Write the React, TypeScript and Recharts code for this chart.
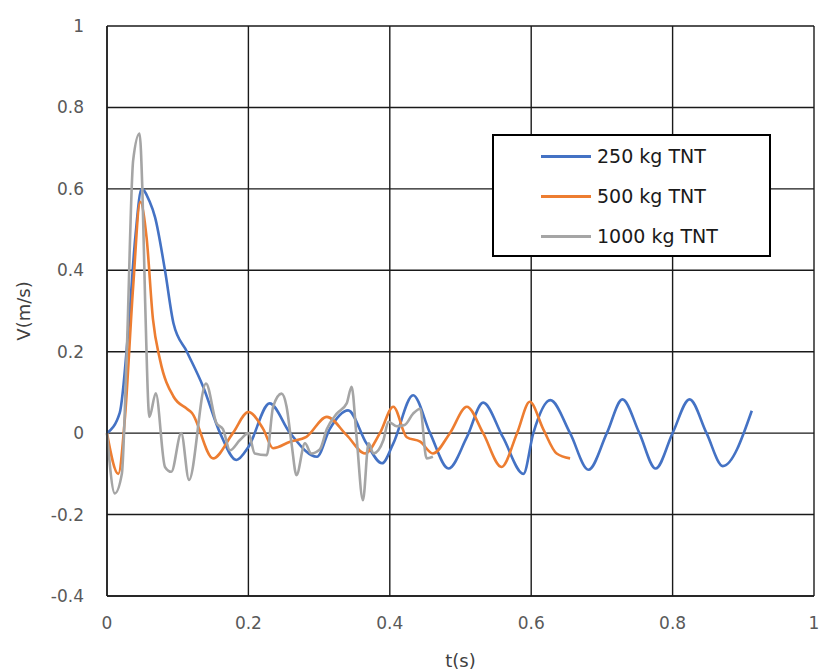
import React from "react"
import { LineChart, Line, XAxis, YAxis, CartesianGrid, Label } from "recharts"

// time (s) and velocity (m/s), per charge size
const t250 = [0, 0.018, 0.03, 0.04, 0.049, 0.06, 0.068, 0.082, 0.094, 0.113, 0.136, 0.16, 0.183, 0.2, 0.23, 0.259, 0.297, 0.315, 0.341, 0.367, 0.389, 0.405, 0.433, 0.457, 0.483, 0.509, 0.532, 0.56, 0.589, 0.603, 0.627, 0.655, 0.681, 0.707, 0.729, 0.753, 0.776, 0.8, 0.824, 0.848, 0.871, 0.912]
const v250 = [0, 0.05, 0.25, 0.48, 0.6, 0.57, 0.53, 0.4, 0.27, 0.2, 0.114, 0, -0.066, -0.034, 0.073, 0, -0.058, 0.01, 0.056, -0.025, -0.074, -0.025, 0.093, 0, -0.087, -0.01, 0.075, -0.01, -0.1, 0, 0.081, 0, -0.09, 0, 0.083, 0, -0.087, 0, 0.083, 0, -0.081, 0.055]

const t500 = [0, 0.016, 0.025, 0.037, 0.047, 0.056, 0.065, 0.075, 0.094, 0.113, 0.12, 0.15, 0.178, 0.2, 0.221, 0.235, 0.259, 0.282, 0.311, 0.339, 0.365, 0.386, 0.405, 0.424, 0.443, 0.461, 0.485, 0.509, 0.532, 0.558, 0.58, 0.598, 0.617, 0.636, 0.655]
const v500 = [0, -0.1, 0.03, 0.36, 0.568, 0.48, 0.28, 0.18, 0.09, 0.06, 0.05, -0.062, 0, 0.052, 0.01, -0.037, -0.021, -0.009, 0.04, -0.005, -0.05, 0, 0.065, -0.01, -0.021, -0.05, 0, 0.065, 0, -0.083, 0, 0.077, 0.01, -0.05, -0.062]

const t1000 = [0, 0.011, 0.021, 0.028, 0.037, 0.046, 0.05, 0.054, 0.06, 0.069, 0.082, 0.091, 0.105, 0.116, 0.14, 0.155, 0.164, 0.174, 0.188, 0.2, 0.209, 0.226, 0.235, 0.247, 0.254, 0.261, 0.268, 0.28, 0.289, 0.301, 0.311, 0.325, 0.339, 0.346, 0.353, 0.362, 0.37, 0.377, 0.391, 0.398, 0.41, 0.421, 0.433, 0.443, 0.452, 0.461]
const v1000 = [0, -0.148, -0.1, 0.2, 0.67, 0.736, 0.6, 0.32, 0.04, 0.098, -0.083, -0.095, 0, -0.115, 0.122, 0.024, 0.01, -0.042, -0.017, 0, -0.05, -0.054, 0.065, 0.097, 0.065, -0.025, -0.103, -0.025, -0.05, -0.04, 0.01, 0.048, 0.073, 0.114, -0.01, -0.165, -0.025, -0.05, -0.017, 0.028, 0.017, 0.02, 0.048, 0.06, -0.062, -0.058]

const seriesNames = ["250 kg TNT", "500 kg TNT", "1000 kg TNT"]
const seriesColors = ["#4472C4", "#ED7D31", "#A5A5A5"]

const xTicks = [0, 0.2, 0.4, 0.6, 0.8, 1]
const yTicks = [-0.4, -0.2, 0, 0.2, 0.4, 0.6, 0.8, 1]

const toPoints = (ts: number[], vs: number[]) => ts.map((t, i) => ({ t, v: vs[i] }))

const series = [
  toPoints(t250, v250),
  toPoints(t500, v500),
  toPoints(t1000, v1000),
]

const font = "'DejaVu Sans', sans-serif"
const tickStyle = { fontSize: 17, fill: "#595959", fontFamily: font }

export default function App() {
  return (
    <div style={{ position: "absolute", left: 0, top: 0, width: 819, height: 671, background: "#fff" }}>
      <LineChart width={819} height={671} margin={{ top: 26, right: 5, bottom: 0, left: 0 }}>
        <CartesianGrid stroke="#1a1a1a" strokeWidth={1.4} />
        <XAxis
          type="number"
          dataKey="t"
          domain={[0, 1]}
          ticks={xTicks}
          height={75}
          tickSize={0}
          tickMargin={21}
          axisLine={{ stroke: "#1a1a1a", strokeWidth: 1.4 }}
          tick={tickStyle}
        >
          <Label
            content={({ viewBox }: any) => (
              <text x={viewBox.x + viewBox.width / 2} y={660} textAnchor="middle" dominantBaseline="central"
                fontSize={18} fill="#404040" fontFamily={font}>
                t(s)
              </text>
            )}
          />
        </XAxis>
        <YAxis
          type="number"
          domain={[-0.4, 1]}
          ticks={yTicks}
          width={107}
          tickSize={0}
          tickMargin={23}
          axisLine={{ stroke: "#1a1a1a", strokeWidth: 1.4 }}
          tick={tickStyle}
        >
          <Label
            content={({ viewBox }: any) => {
              const cy = viewBox.y + viewBox.height / 2
              return (
                <text x={23} y={cy} transform={`rotate(-90, 23, ${cy})`} textAnchor="middle" dominantBaseline="central"
                  fontSize={18} fill="#404040" fontFamily={font}>
                  V(m/s)
                </text>
              )
            }}
          />
        </YAxis>
        {series.map((data, i) => (
          <Line
            key={seriesNames[i]}
            data={data}
            dataKey="v"
            name={seriesNames[i]}
            type="monotone"
            stroke={seriesColors[i]}
            strokeWidth={2.6}
            dot={false}
            isAnimationActive={false}
          />
        ))}
      </LineChart>

      {/* legend box sits inside the plot, upper right */}
      <div style={{ position: "absolute", left: 492, top: 134, width: 275, height: 119, border: "2.5px solid #000", background: "#fff", fontFamily: font }}>
        {seriesNames.map((name, i) => (
          <div key={name} style={{ position: "absolute", left: 47, top: 20 + i * 40 - 12, height: 24, display: "flex", alignItems: "center" }}>
            <div style={{ width: 50, height: 3, background: seriesColors[i], marginRight: 6 }} />
            <span style={{ fontSize: 19, color: "#1a1a1a", whiteSpace: "nowrap" }}>{name}</span>
          </div>
        ))}
      </div>
    </div>
  )
}
